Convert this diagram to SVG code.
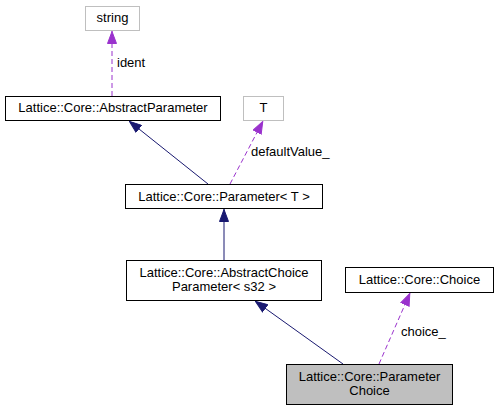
<svg xmlns="http://www.w3.org/2000/svg" width="498" height="411" viewBox="0 0 498 411">
<style>
text{font-family:"Liberation Sans",Arial,sans-serif;font-size:13px;fill:#000}
.c{text-anchor:middle}
.box{fill:#fff;stroke:#000;stroke-width:1}
.gbox{fill:#fff;stroke:#bfbfbf;stroke-width:1}
.inh{stroke:#191970;stroke-width:1;fill:none}
.use{stroke:#9a32cd;stroke-width:1;fill:none;stroke-dasharray:5,3}
</style>
<defs>
<marker id="an" markerUnits="userSpaceOnUse" viewBox="0 -5 13 10" markerWidth="13" markerHeight="10" refX="13" refY="0" orient="auto"><path d="M0.5,-4.5 L12.5,0 L0.5,4.5 z" fill="#191970" stroke="#191970"/></marker>
<marker id="ap" markerUnits="userSpaceOnUse" viewBox="0 -5 13 10" markerWidth="13" markerHeight="10" refX="13" refY="0" orient="auto"><path d="M0.5,-4.5 L12.5,0 L0.5,4.5 z" fill="#9a32cd" stroke="#9a32cd"/></marker>
</defs>
<rect width="498" height="411" fill="#fff"/>
<g id="edges">
<line class="use" x1="112" y1="96" x2="112" y2="31" marker-end="url(#ap)"/>
<text x="117" y="67">ident</text>
<line class="inh" x1="208" y1="184" x2="129" y2="121" marker-end="url(#an)"/>
<line class="use" x1="230" y1="184" x2="263" y2="121" marker-end="url(#ap)"/>
<text x="251" y="156">defaultValue_</text>
<line class="inh" x1="224" y1="260" x2="224" y2="209" marker-end="url(#an)"/>
<line class="inh" x1="343" y1="364" x2="255" y2="301" marker-end="url(#an)"/>
<line class="use" x1="379" y1="364" x2="410" y2="293" marker-end="url(#ap)"/>
<text x="401" y="336">choice_</text>
</g>
<g id="string"><rect class="gbox" x="85.5" y="6.5" width="54" height="24"/><text class="c" x="112.5" y="22">string</text></g>
<g id="AbstractParameter"><rect class="box" x="5.5" y="96.5" width="215" height="24"/><text class="c" x="113" y="112">Lattice::Core::AbstractParameter</text></g>
<g id="T"><rect class="gbox" x="243.5" y="96.5" width="40" height="24"/><text class="c" x="263.5" y="112">T</text></g>
<g id="Parameter"><rect class="box" x="125.5" y="184.5" width="197" height="24"/><text class="c" x="224" y="201">Lattice::Core::Parameter&lt; T &gt;</text></g>
<g id="AbstractChoiceParameter"><rect class="box" x="126.5" y="260.5" width="195" height="40"/><text class="c" x="224" y="277">Lattice::Core::AbstractChoice</text><text class="c" x="224" y="291">Parameter&lt; s32 &gt;</text></g>
<g id="Choice"><rect class="box" x="345.5" y="267.5" width="148" height="25"/><text class="c" x="419.5" y="284">Lattice::Core::Choice</text></g>
<g id="ParameterChoice"><rect x="286.5" y="364.5" width="166" height="40" fill="#bfbfbf" stroke="#000"/><text class="c" x="369.5" y="381">Lattice::Core::Parameter</text><text class="c" x="369.5" y="395">Choice</text></g>
</svg>
